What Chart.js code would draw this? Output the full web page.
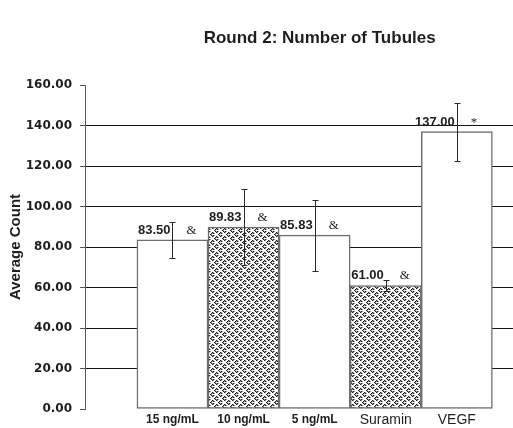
<!DOCTYPE html>
<html>
<head>
<meta charset="utf-8">
<script src="https://cdn.jsdelivr.net/npm/chart.js@4"></script>
<style>
    html, body { margin: 0; padding: 0; background: #fff; }
</style>
</head>
<body>
<canvas id="myChart" width="513" height="428"></canvas>
<script>
let chartTitle = 'Round 2: Number of Tubules';
let categories = ['15 ng/mL', '10 ng/mL', '5 ng/mL', 'Suramin', 'VEGF'];
let averageCount = [83.50, 89.83, 85.83, 61.00, 137.00];
let errorSize = [8.9, 18.6, 17.6, 2.5, 14.3];
let significance = ['&', '&', '&', '&', '*'];
let yTicks = [0, 20, 40, 60, 80, 100, 120, 140, 160];

// woven / herringbone fill for the hatched bars
function makeHatch() {
    let c = document.createElement('canvas');
    c.width = 8;
    c.height = 8;
    let g = c.getContext('2d');
    g.fillStyle = '#fff';
    g.fillRect(0, 0, 8, 8);
    for (let y = 0; y < 8; y++) {
        for (let x = 0; x < 8; x++) {
            let a = (x + y) % 4 === 0 && (((x - y) % 8) + 8) % 8 < 4;
            let b = (((x - y) % 4) + 4) % 4 === 0 && (x + y) % 8 >= 4;
            if (a || b) {
                g.fillStyle = '#1c1c1c';
                g.fillRect(x, y, 1, 1);
                g.fillStyle = '#9a9a9a';
                g.fillRect((x + 1) % 8, y, 1, 1);
            }
        }
    }
    return g.createPattern(c, 'repeat');
}
let hatch = makeHatch();

let titlePlugin = {
    id: 'titlePlugin',
    afterDraw(chart) {
        let ctx = chart.ctx;
        let x = chart.scales.x;
        let cx = (x.getPixelForValue(0.5) + x.getPixelForValue(categories.length + 0.5)) / 2;
        ctx.save();
        ctx.font = 'bold 17px "Liberation Sans", Arial, sans-serif';
        ctx.fillStyle = '#1e1e1e';
        ctx.textAlign = 'center';
        ctx.textBaseline = 'alphabetic';
        ctx.fillText(chartTitle, cx + 5, 43);
        ctx.restore();
    }
};

let barExtras = {
    id: 'barExtras',
    afterDatasetsDraw(chart) {
        let ctx = chart.ctx;
        let y = chart.scales.y;
        let meta = chart.getDatasetMeta(0);
        ctx.save();
        meta.data.forEach((bar, i) => {
            let bx = Math.round(bar.x) + 0.5;
            let top = Math.round(y.getPixelForValue(averageCount[i] + errorSize[i])) + 0.5;
            let bot = Math.round(y.getPixelForValue(averageCount[i] - errorSize[i])) + 0.5;
            ctx.strokeStyle = '#2a2a2a';
            ctx.lineWidth = 1;
            ctx.beginPath();
            ctx.moveTo(bx, top);
            ctx.lineTo(bx, bot);
            ctx.moveTo(bx - 3, top);
            ctx.lineTo(bx + 3, top);
            ctx.moveTo(bx - 3, bot);
            ctx.lineTo(bx + 3, bot);
            ctx.stroke();

            ctx.fillStyle = '#1e1e1e';
            ctx.textBaseline = 'alphabetic';
            ctx.font = 'bold 13px "Liberation Sans", Arial, sans-serif';
            ctx.textAlign = 'right';
            ctx.fillText(averageCount[i].toFixed(2), bar.x - 2, bar.y - 6);
            ctx.font = '13px "Liberation Serif", serif';
            ctx.textAlign = 'left';
            ctx.fillText(significance[i], bar.x + 14, bar.y - 6);
        });
        ctx.restore();
    }
};

let myChart = document.getElementById('myChart').getContext('2d');
let chart = new Chart(myChart, {
    type: 'bar',
    data: {
        datasets: [
            {
                data: averageCount.map((v, i) => ({ x: i + 1, y: v })),
                backgroundColor: ['#fff', hatch, '#fff', hatch, '#fff'],
                borderColor: '#6e6e6e',
                borderWidth: 1.5,
                borderSkipped: false,
                barPercentage: 1,
                categoryPercentage: 1
            }
        ]
    },
    options: {
        responsive: false,
        animation: false,
        layout: { padding: { top: 85, right: 0, bottom: 0, left: 0 } },
        plugins: {
            legend: { display: false },
            tooltip: { enabled: false },
            title: { display: false }
        },
        scales: {
            x: {
                type: 'linear',
                min: -0.23,
                max: 5.79,
                bounds: 'data',
                offset: false,
                afterBuildTicks: scale => {
                    scale.ticks = categories.map((c, i) => ({ value: i + 1 }));
                },
                afterFit: scale => { scale.height = 19; },
                grid: { display: false, drawTicks: false, offset: false },
                border: { display: false },
                ticks: {
                    autoSkip: false,
                    maxRotation: 0,
                    padding: 3,
                    color: '#1e1e1e',
                    callback: value => categories[value - 1],
                    font: ctx => ctx.index >= 3
                        ? { family: '"Liberation Sans", Arial, sans-serif', size: 14, weight: 'normal' }
                        : { family: '"Liberation Sans", Arial, sans-serif', size: 12, weight: 'bold' }
                }
            },
            y: {
                min: 0,
                max: 160,
                afterBuildTicks: scale => {
                    scale.ticks = yTicks.map(v => ({ value: v }));
                },
                afterFit: scale => { scale.width = 85; },
                grid: {
                    color: ctx => (ctx.tick && (ctx.tick.value === 0 || ctx.tick.value === 160)) ? 'rgba(0,0,0,0)' : '#141414',
                    tickColor: '#555',
                    tickLength: 5,
                    lineWidth: 1
                },
                border: { color: '#5a5a5a', width: 1 },
                ticks: {
                    padding: 8,
                    color: '#1e1e1e',
                    font: { family: '"DejaVu Sans", sans-serif', size: 12, weight: 'bold' },
                    callback: v => v.toFixed(2)
                },
                title: {
                    display: true,
                    text: 'Average Count',
                    color: '#1e1e1e',
                    font: { family: '"Liberation Sans", Arial, sans-serif', size: 15, weight: 'bold' },
                    padding: { top: 7, bottom: 0 }
                }
            }
        }
    },
    plugins: [titlePlugin, barExtras]
});
</script>
</body>
</html>
